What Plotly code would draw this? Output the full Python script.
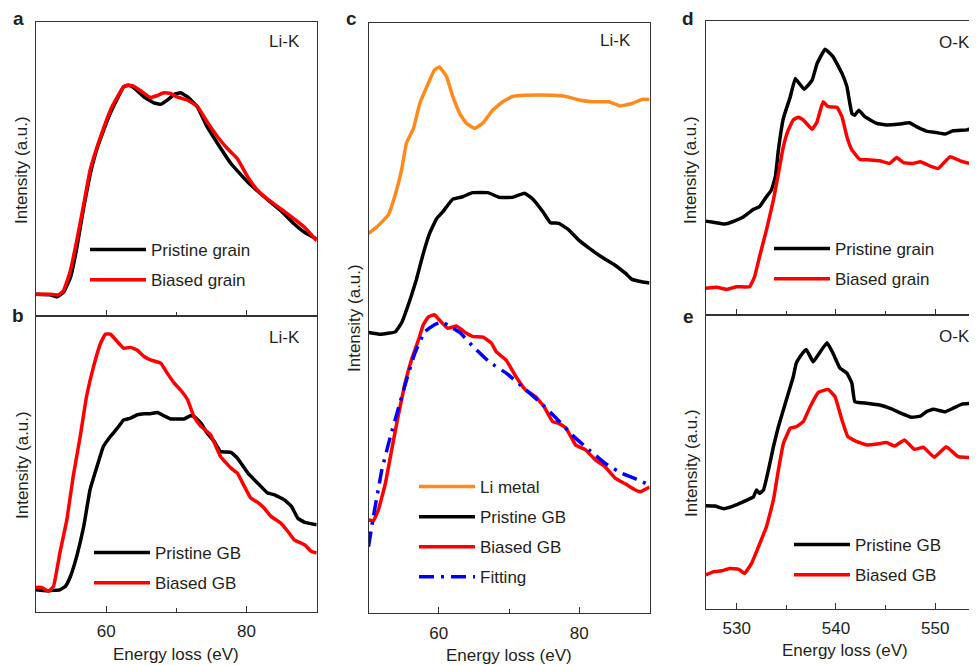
import plotly.graph_objects as go

W, H = 977, 665
OFF = 8  # page body margin of the browser page, compensated in placement
FONT = "Liberation Sans, Arial, Helvetica, sans-serif"
TXT = "#231f20"
AX = "#333333"

# ---------------- Panel a (Li-K, grain) ----------------
a_pristine_e = [50.0, 52.0, 53.0, 53.9, 54.9, 55.8, 56.8, 57.7, 58.7, 59.6, 60.6, 61.6, 62.5, 63.2, 63.9,
                65.4, 66.8, 67.8, 68.7, 69.7, 70.6, 71.6, 73.0, 74.4, 75.9, 77.8, 80.2, 82.6, 84.9, 86.8, 88.3, 90.0]
a_pristine_i = [7.4, 7.2, 6.5, 8.0, 13, 23, 37, 48, 57, 63, 69, 74, 78, 78.5, 77.7,
                74.5, 72.5, 72, 73.4, 75.4, 75.9, 74.5, 71.1, 64.3, 58.6, 51.8, 45.5, 40.4, 35.8, 31.3, 28.4, 26.2]
a_biased_e = [50.0, 52.0, 53.2, 53.9, 54.9, 55.8, 56.8, 57.7, 58.7, 59.6, 60.6, 61.6, 62.5, 63.0, 63.9, 64.9,
              66.3, 67.3, 68.2, 69.2, 70.1, 71.6, 73.0, 74.4, 75.9, 77.3, 78.7, 80.2, 81.6, 83.0, 84.9, 86.8, 88.3, 90.0]
a_biased_i = [7.4, 7.4, 7.2, 8.5, 15.4, 25.6, 38, 49.5, 57.5, 63.7, 70, 74.5, 78, 78.5, 78.2, 76.6,
              74.3, 75, 75.9, 75.7, 74.5, 73.4, 71.3, 66, 60.9, 56.9, 53.5, 47.2, 42.7, 39.8, 36.4, 33, 30.1, 25.6]

# ---------------- Panel b (Li-K, GB) ----------------
b_pristine_e = [50.0, 51.5, 53.4, 54.2, 54.9, 55.8, 56.8, 57.7, 58.7, 59.6, 60.6, 61.6, 62.5, 63.5, 64.4, 65.4,
                66.3, 67.3, 68.2, 69.2, 70.1, 71.1, 72.0, 72.5, 73.5, 74.4, 75.4, 76.3, 77.8, 78.7, 80.2, 81.6,
                83.0, 84.0, 85.4, 86.4, 87.3, 88.3, 90.0]
b_pristine_i = [7.5, 7.2, 7.5, 8.7, 12, 18.8, 28.9, 41.3, 49.2, 55.9, 59.3, 62.1, 64.9, 65.5, 66.6, 67,
                67, 67.4, 66.3, 65.2, 65.2, 65.2, 66.3, 66.1, 63.8, 60.4, 57.6, 54.2, 53.9, 52, 46.9, 43.5,
                40.2, 39.6, 37.9, 35.7, 31.7, 30.3, 29.5]
b_biased_e = [50.0, 50.8, 51.8, 52.5, 53.4, 54.4, 55.3, 56.3, 57.2, 58.2, 59.2, 59.9, 60.6, 61.6, 62.5, 63.5,
              64.4, 65.4, 66.3, 67.8, 68.7, 69.7, 70.6, 71.6, 72.5, 73.5, 74.9, 76.3, 77.8, 78.7, 79.7, 80.6,
              81.6, 82.5, 83.5, 84.9, 85.9, 86.8, 88.3, 89.2, 90.0]
b_biased_i = [8.3, 8.3, 7, 8.7, 19.9, 31.2, 45.8, 59.3, 72.8, 82.9, 90.8, 93.9, 93.9, 91.3, 89.1, 89.4,
              88.5, 86.3, 85.2, 84, 80.7, 77.3, 75, 71.7, 66, 62.7, 59.8, 52.5, 48.6, 46.9, 42.4, 38.5,
              37, 35.1, 32.3, 30, 27.2, 24.4, 22.7, 20.5, 19.9]

# ---------------- Panel c (Li-K, comparison) ----------------
c_limetal_e = [50.0, 51.2, 52.8, 53.8, 54.7, 55.4, 56.4, 57.3, 58.5, 59.4, 60.1, 61.1, 62.0, 63.0, 63.9,
               65.1, 66.3, 67.7, 69.1, 70.5, 72.4, 76.2, 78.1, 80.0, 81.8, 84.2, 85.8, 87.5, 88.9, 90.0]
c_limetal_i = [64.4, 65.5, 67.5, 70.9, 75.1, 79.7, 82.2, 86.4, 89.8, 92.1, 92.6, 91, 87.6, 84.7, 83.1,
               82.2, 83.1, 85.3, 86.7, 87.6, 87.8, 87.8, 87.6, 87.0, 86.7, 86.7, 86, 86.4, 87.1, 87.1]
c_pristine_e = [50.0, 51.7, 53.8, 54.7, 55.9, 56.8, 57.8, 58.7, 59.7, 60.6, 62.0, 63.4, 64.8, 67.0, 68.6,
                70.5, 72.2, 73.3, 74.8, 75.9, 77.1, 78.5, 79.9, 81.4, 83.3, 85.1, 86.6, 87.5, 88.9, 90.0]
c_pristine_i = [47.6, 47.3, 47.7, 49.2, 53.1, 56.5, 61, 64.4, 66.9, 68.1, 70.2, 70.6, 71.3, 71.3, 70.5,
                70.5, 71.2, 70.3, 68.1, 66.2, 66.1, 65, 63.3, 61.9, 60.3, 59, 57.6, 56.6, 56.2, 56]
c_biased_e = [50.0, 50.7, 51.4, 52.4, 53.3, 54.2, 55.2, 56.1, 57.1, 57.8, 58.5, 59.4, 60.1, 61.3, 62.5,
              63.9, 64.9, 66.3, 67.5, 68.2, 69.6, 71.0, 72.4, 73.8, 75.0, 76.2, 77.1, 78.1, 79.5, 80.9,
              82.3, 83.7, 85.1, 86.6, 88.0, 88.7, 90.0]
c_biased_i = [15.8, 15.7, 17.5, 22, 27.7, 33.3, 39, 42.9, 46.3, 48.9, 50.2, 50.6, 49.7, 48.3, 48.7,
              47.5, 46.9, 46.8, 45.8, 44.3, 42.9, 40.1, 37.8, 36.7, 35, 32.5, 32.2, 31.4, 28.5, 27.7,
              26, 24.8, 22.9, 21.9, 20.9, 20.6, 21.4]
c_fit_e = [50.0, 50.7, 51.9, 53.1, 54.2, 55.4, 56.6, 58.0, 59.4, 60.4, 61.6, 63.0, 64.9, 67.2, 69.6,
           71.9, 74.3, 76.7, 79.0, 81.4, 83.7, 86.1, 88.4, 90.0]
c_fit_i = [11.3, 16.4, 24.3, 29.9, 34.5, 39.5, 44.1, 47.7, 48.9, 49.4, 48.6, 47.6, 45.2, 42.6, 40.7,
           38.4, 35.9, 33.1, 30.2, 27.7, 25.4, 23.7, 22.6, 21.7]

# ---------------- Panel d (O-K, grain) ----------------
d_pristine_e = [526.9, 527.8, 528.8, 529.8, 530.7, 531.7, 532.3, 533.0, 533.5, 533.9, 534.2, 534.7, 535.4,
                535.9, 536.3, 536.8, 537.6, 538.1, 538.9, 539.7, 540.6, 541.1, 541.6, 541.9, 542.3, 542.9,
                544.1, 545.1, 546.4, 547.4, 548.1, 549.1, 550.1, 551.0, 551.8, 553.2, 554.2]
d_pristine_i = [31.9, 31.4, 30.9, 32, 33.4, 35.9, 36.8, 40.2, 42.5, 47, 56.1, 66.8, 74.2,
                80.4, 78.7, 76.7, 79.8, 85.5, 90.3, 87.8, 82.1, 77.6, 68.5, 67.9, 69.6, 67.4,
                65.1, 64.6, 64.9, 65.3, 64, 62.5, 62, 61.5, 62.6, 62.9, 63.8]
d_biased_e = [526.9, 528.0, 529.0, 530.0, 531.3, 531.8, 532.3, 533.0, 533.7, 534.2, 534.7, 535.2, 535.7,
              536.2, 536.7, 537.6, 538.1, 538.7, 539.2, 540.1, 540.6, 541.1, 541.6, 542.4, 543.4, 544.4,
              545.4, 546.1, 546.8, 547.8, 548.5, 549.5, 550.3, 550.8, 551.5, 552.5, 553.5, 554.2]
d_biased_i = [9.1, 9.4, 8.7, 9.6, 9.6, 13, 19.8, 28.9, 39.1, 48.1, 57.2, 62.9, 66.3,
              67.2, 66.3, 63.1, 65.7, 72.5, 70.8, 70.6, 67.4, 60.6, 56.1, 52.9, 52.7, 52.4,
              51.5, 53.5, 51.8, 51.5, 52.1, 50.6, 49.8, 51.5, 53.8, 52.4, 51.5, 51.3]

# ---------------- Panel e (O-K, GB) ----------------
e_pristine_e = [526.9, 527.8, 528.7, 529.5, 530.3, 531.2, 531.7, 532.0, 532.3, 532.7, 533.2, 533.7, 534.2,
                534.9, 535.4, 535.7, 536.0, 536.5, 537.0, 537.7, 538.2, 539.1, 539.7, 540.4, 541.1, 541.6,
                541.9, 543.1, 544.4, 545.4, 546.4, 547.6, 548.5, 549.1, 549.8, 551.0, 551.8, 552.7, 554.2]
e_pristine_i = [35.1, 35, 34.1, 34.8, 35.9, 37.3, 38.2, 40.5, 39.3, 40.5, 47.3, 55.2, 62,
                70, 75.6, 79, 83.6, 86.4, 88.3, 84.1, 86.4, 90.6, 87, 81.9, 80.2, 76.8,
                70.5, 70, 69.4, 68.3, 66.8, 65.2, 65.6, 67.1, 67.9, 67.1, 68.3, 69.7, 70]
e_biased_e = [526.9, 527.7, 528.5, 529.3, 530.2, 530.8, 531.5, 532.2, 533.0, 533.7, 534.2, 534.7, 535.4,
              536.0, 536.7, 537.4, 538.2, 539.2, 539.9, 540.6, 541.2, 542.1, 543.1, 544.1, 545.1, 545.9,
              546.9, 547.9, 548.8, 549.9, 551.1, 552.3, 553.5, 554.2]
e_biased_i = [11.6, 12.7, 13, 13.8, 13.5, 12.1, 15.5, 21.2, 28, 37.1, 47.3, 56.3, 61.5,
              62, 63.7, 68.8, 73.6, 74.7, 72.2, 64.3, 58.6, 56.9, 55.8, 56.1, 56.6, 55.4,
              57.5, 54.3, 55, 51.6, 55.2, 51.8, 51.6, 53.5]

BLACK = "#000000"
RED = "#ff0000"
ORANGE = "#ff8a1c"
BLUE = "#0000ff"

fig = go.Figure()


def add(x, y, name, color, xa, ya, legend, dash=None):
    fig.add_trace(go.Scatter(
        x=x, y=y, mode="lines", name=name,
        line=dict(color=color, width=3.5, dash=dash, shape="spline", smoothing=0.3),
        xaxis=xa, yaxis=ya, legend=legend, legendgroup=name + legend,
        hoverinfo="skip"))


add(a_pristine_e, a_pristine_i, "Pristine grain", BLACK, "x", "y", "legend")
add(a_biased_e, a_biased_i, "Biased grain", RED, "x", "y", "legend")
add(b_pristine_e, b_pristine_i, "Pristine GB", BLACK, "x2", "y2", "legend2")
add(b_biased_e, b_biased_i, "Biased GB", RED, "x2", "y2", "legend2")
add(c_limetal_e, c_limetal_i, "Li metal", ORANGE, "x3", "y3", "legend3")
add(c_pristine_e, c_pristine_i, "Pristine GB", BLACK, "x3", "y3", "legend3")
add(c_biased_e, c_biased_i, "Biased GB", RED, "x3", "y3", "legend3")
add(c_fit_e, c_fit_i, "Fitting", BLUE, "x3", "y3", "legend3", dash="15px,7px,3px,7px")
add(d_pristine_e, d_pristine_i, "Pristine grain", BLACK, "x4", "y4", "legend4")
add(d_biased_e, d_biased_i, "Biased grain", RED, "x4", "y4", "legend4")
add(e_pristine_e, e_pristine_i, "Pristine GB", BLACK, "x5", "y5", "legend5")
add(e_biased_e, e_biased_i, "Biased GB", RED, "x5", "y5", "legend5")


def px_x(p):
    return (p - OFF) / W


def px_y(p):
    return 1 - (p - OFF) / H


AB_X = [px_x(36), px_x(316.7)]
C_X = [px_x(368.5), px_x(649.5)]
DE_X = [px_x(705.7), px_x(977)]
A_Y = [px_y(316), px_y(22)]
B_Y = [px_y(612), px_y(316)]
C_Y = [px_y(613.3), px_y(23.3)]
D_Y = [px_y(315), px_y(20.7)]
E_Y = [px_y(609), px_y(315)]

tickfont = dict(size=17, family=FONT, color=TXT)


def xax(domain, anchor, rng, dtick, minor_dtick, labels):
    return dict(domain=domain, anchor=anchor, range=rng, dtick=dtick, tick0=0,
                showline=True, linecolor=AX, linewidth=1, mirror=True,
                ticks="inside", ticklen=6, tickwidth=1, tickcolor=AX,
                showticklabels=labels, tickfont=tickfont, ticklabelstandoff=4,
                showgrid=False, zeroline=False, fixedrange=True,
                minor=dict(ticks="inside", ticklen=4, tickwidth=1, tickcolor=AX,
                           dtick=minor_dtick, tick0=0, showgrid=False))


def yax(domain, anchor, mirror=True):
    return dict(domain=domain, anchor=anchor, range=[0, 100],
                showline=True, linecolor=AX, linewidth=1, mirror=mirror,
                ticks="", showticklabels=False, showgrid=False, zeroline=False,
                fixedrange=True)


legfont = dict(size=17, family=FONT, color=TXT)


def leg(line_start, first_center):
    return dict(x=px_x(line_start - 6), y=px_y(first_center - 18), xanchor="left", yanchor="top",
                bgcolor="rgba(0,0,0,0)", borderwidth=0, font=legfont,
                tracegroupgap=5, itemwidth=56)


annotations = []


def text(s, x, y, size=17, bold=False, xanchor="center", angle=0):
    annotations.append(dict(
        text=("<b>%s</b>" % s) if bold else s, x=px_x(x), y=px_y(y),
        xref="paper", yref="paper", showarrow=False, xanchor=xanchor,
        yanchor="middle", textangle=angle,
        font=dict(size=size, family=FONT, color=TXT)))


# panel letters
text("a", 18, 19, size=19, bold=True)
text("b", 18, 315, size=19, bold=True)
text("c", 351, 19, size=19, bold=True)
text("d", 688, 18, size=19, bold=True)
text("e", 688, 316, size=19, bold=True)
# edge labels
text("Li-K", 302, 42, xanchor="right")
text("Li-K", 302, 337, xanchor="right")
text("Li-K", 633, 41, xanchor="right")
text("O-K", 972, 43, xanchor="right")
text("O-K", 972, 336, xanchor="right")
# y titles
text("Intensity (a.u.)", 22, 170, angle=-90)
text("Intensity (a.u.)", 22, 465, angle=-90)
text("Intensity (a.u.)", 354, 318, angle=-90)
text("Intensity (a.u.)", 691, 170, angle=-90)
text("Intensity (a.u.)", 691, 463, angle=-90)
# x titles
text("Energy loss (eV)", 176, 654)
text("Energy loss (eV)", 509, 655)
text("Energy loss (eV)", 845, 650)

fig.update_layout(
    width=W, height=H,
    margin=dict(l=0, r=0, t=0, b=0),
    paper_bgcolor="white", plot_bgcolor="white",
    font=dict(family=FONT, color=TXT, size=17),
    showlegend=True,
    xaxis=xax(AB_X, "y", [50, 90], 20, 10, False),
    yaxis=yax(A_Y, "x"),
    xaxis2=xax(AB_X, "y2", [50, 90], 20, 10, True),
    yaxis2=yax(B_Y, "x2"),
    xaxis3=xax(C_X, "y3", [50, 90], 20, 10, True),
    yaxis3=yax(C_Y, "x3"),
    xaxis4=xax(DE_X, "y4", [526.88, 554.2], 10, 5, False),
    yaxis4=yax(D_Y, "x4", mirror=False),
    xaxis5=xax(DE_X, "y5", [526.88, 554.2], 10, 5, True),
    yaxis5=yax(E_Y, "x5", mirror=False),
    legend=leg(91, 250),
    legend2=leg(95, 553),
    legend3=leg(420, 487),
    legend4=leg(775, 249),
    legend5=leg(795, 545),
    annotations=annotations,
)

fig.write_html("out.html")
